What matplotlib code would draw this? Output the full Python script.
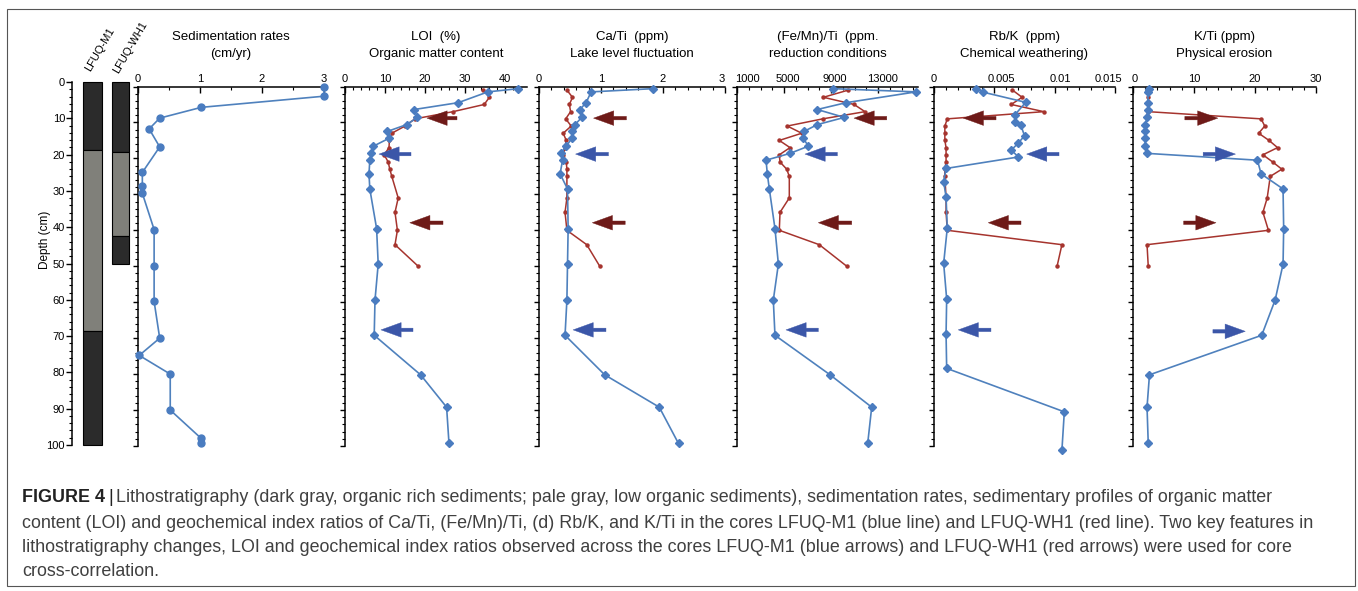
import matplotlib
matplotlib.use('Agg')
import matplotlib.pyplot as plt
from matplotlib.patches import Rectangle
from matplotlib.ticker import MultipleLocator, FixedLocator
import matplotlib.transforms as mtransforms
import numpy as np

plt.rcParams['font.family'] = ['Liberation Sans', 'DejaVu Sans']

W, H, DPI = 1358, 591, 100

# ---------------- data ----------------
depth_ticks = list(range(0, 101, 10))

m1_bounds = [0, 18.8, 68.6, 100]
m1_facies = ['dark', 'pale', 'dark']
wh1_bounds = [0, 19.3, 42.4, 50]
wh1_facies = ['dark', 'pale', 'dark']

sed_depth = [0, 2.7, 5.8, 8.8, 11.8, 16.8, 23.9, 27.8, 29.7, 39.8, 50.0, 59.8,
             70.0, 74.8, 80.0, 90.0, 97.9, 99.1]
sed_rate = [3.0, 3.0, 1.02, 0.35, 0.18, 0.35, 0.07, 0.07, 0.07, 0.26, 0.26, 0.26,
            0.35, 0.02, 0.52, 0.52, 1.02, 1.02]

m1_depth = [0.6, 1.5, 4.5, 6.4, 8.6, 10.6, 12.5, 14.4, 16.6, 18.6, 20.5, 24.3,
            28.5, 39.5, 49.4, 59.4, 69.2, 80.2, 89.2, 99.3]
m1_loi = [43.3, 35.7, 28.3, 17.3, 18.1, 15.4, 10.6, 11.0, 7.1, 6.6, 6.2, 6.0,
          6.2, 7.9, 8.3, 7.5, 7.3, 18.9, 25.4, 26.0]
m1_cati = [1.84, 0.84, 0.76, 0.66, 0.69, 0.58, 0.53, 0.53, 0.44, 0.35, 0.38, 0.34,
           0.46, 0.47, 0.46, 0.45, 0.42, 1.06, 1.94, 2.25]
m1_femn = [9200, 16230, 10280, 7830, 10130, 7830, 6700, 6640, 7070, 5510, 3470, 3580,
           3750, 4230, 4520, 4090, 4230, 8920, 12460, 12120]
m1_kti = [2.6, 2.4, 2.5, 2.5, 2.3, 2.0, 2.0, 2.0, 2.0, 2.3, 20.4, 21.0,
          24.6, 24.7, 24.6, 23.3, 21.1, 2.7, 2.3, 2.5]
m1_rbk_depth = [0.6, 1.6, 4.4, 7.9, 10.0, 10.8, 13.7, 15.7, 17.7, 19.6, 22.8, 26.5,
                30.7, 39.4, 49.2, 59.1, 68.9, 78.4, 90.5, 101.2]
m1_rbk = [0.0035, 0.0041, 0.0076, 0.0067, 0.0067, 0.0072, 0.0075, 0.0070, 0.0064, 0.0070,
          0.0010, 0.0008, 0.0010, 0.0011, 0.0008, 0.00105, 0.0010, 0.00105, 0.0108, 0.0106]

wh1_depth = [1, 3, 5, 7, 9, 11, 13, 15, 17, 19, 21, 23, 25, 31, 35, 40, 44, 50]
wh1_loi = [34.6, 36.1, 34.8, 27.0, 17.5, 15.0, 11.7, 11.1, 11.0, 9.8, 10.8, 11.2,
           11.7, 13.3, 12.5, 13.1, 12.5, 18.3]
wh1_cati = [0.45, 0.54, 0.49, 0.51, 0.43, 0.52, 0.39, 0.44, 0.42, 0.39, 0.44, 0.45,
            0.45, 0.45, 0.42, 0.45, 0.77, 0.98]
wh1_femn = [10470, 8350, 10960, 11890, 8290, 5280, 6510, 4600, 5510, 4600, 4660, 5230,
            5450, 5450, 4660, 4600, 8000, 10340]
wh1_rbk = [0.0065, 0.0073, 0.0064, 0.0091, 0.0011, 0.0009, 0.0009, 0.0009, 0.0010, 0.0010,
           0.0010, 0.0009, 0.0009, 0.0010, 0.0010, 0.0011, 0.0106, 0.0102]
wh1_kti = [2.5, 2.5, 2.5, 2.5, 21.0, 21.6, 20.6, 22.3, 23.7, 21.3, 22.9, 24.4,
           22.5, 22.0, 21.3, 22.2, 2.3, 2.5]

# arrows: (tail value, tip value, depth, core)
loi_arrows = [(28, 20.5, 8.8, 'wh1'), (16.5, 8.5, 18.8, 'm1'), (24.5, 16.2, 37.9, 'wh1'), (17, 9, 67.7, 'm1')]
cati_arrows = [(1.41, 0.88, 8.8, 'wh1'), (1.12, 0.59, 18.8, 'm1'), (1.39, 0.86, 37.9, 'wh1'), (1.08, 0.55, 67.7, 'm1')]
femn_arrows = [(13740, 10960, 8.8, 'wh1'), (9540, 6790, 18.8, 'm1'), (10760, 7920, 37.9, 'wh1'), (7920, 5170, 67.7, 'm1')]
rbk_arrows = [(0.00514, 0.00243, 8.8, 'wh1'), (0.01036, 0.00768, 18.8, 'm1'), (0.00721, 0.0045, 37.9, 'wh1'), (0.00472, 0.00201, 67.7, 'm1')]
kti_arrows = [(8.5, 13.9, 8.8, 'wh1'), (11.5, 16.8, 18.8, 'm1'), (8.3, 13.6, 37.9, 'wh1'), (13.1, 18.4, 68.1, 'm1')]

caption_lines = [
    "Lithostratigraphy (dark gray, organic rich sediments; pale gray, low organic sediments), sedimentation rates, sedimentary profiles of organic matter",
    "content (LOI) and geochemical index ratios of Ca/Ti, (Fe/Mn)/Ti, (d) Rb/K, and K/Ti in the cores LFUQ-M1 (blue line) and LFUQ-WH1 (red line). Two key features in",
    "lithostratigraphy changes, LOI and geochemical index ratios observed across the cores LFUQ-M1 (blue arrows) and LFUQ-WH1 (red arrows) were used for core",
    "cross-correlation.",
]

# ---------------- styles ----------------
BLUE = '#4F81BD'
BLUE_M = '#4A7CC0'
RED = '#A6342E'
ARROW_C = {'m1': '#3B56A8', 'wh1': '#6E1A18'}
FACIES_C = {'dark': '#2B2B2B', 'pale': '#80807A'}

fig = plt.figure(figsize=(W / DPI, H / DPI), dpi=DPI)


def fx(px):
    return px / W


def fy(py):
    return 1 - py / H


def axes_px(x0, x1, y0, y1):
    return fig.add_axes([fx(x0), fy(y1), fx(x1) - fx(x0), (y1 - y0) / H])


# border
fig.patches.append(Rectangle((fx(7), fy(586)), fx(1355) - fx(7), (586 - 9) / H,
                             transform=fig.transFigure, fill=False, ec='#555555', lw=0.8))

# ---------------- lithology ----------------
axl = axes_px(72, 132, 82, 445)
axl.set_ylim(100, 0)
axl.set_xlim(0, 60)
for side in ['top', 'right', 'bottom']:
    axl.spines[side].set_visible(False)
axl.spines['left'].set_linewidth(1.1)
axl.set_xticks([])
axl.yaxis.set_major_locator(FixedLocator(depth_ticks))
axl.yaxis.set_minor_locator(MultipleLocator(2))
axl.tick_params(axis='y', which='major', length=4, width=1, direction='out', pad=1, labelsize=8)
axl.tick_params(axis='y', which='minor', length=2, width=0.8, direction='out')
fig.text(fx(45), fy(240), 'Depth (cm)', rotation=90, ha='center', va='center', fontsize=8.5)

for bounds, facies, x0, w in [(m1_bounds, m1_facies, 11, 19), (wh1_bounds, wh1_facies, 40, 17)]:
    for top, bot, f in zip(bounds[:-1], bounds[1:], facies):
        axl.add_patch(Rectangle((x0, top), w, bot - top, fc=FACIES_C[f], ec='black', lw=0.8,
                                clip_on=False))

fig.text(fx(90), fy(72), 'LFUQ-M1', rotation=60, rotation_mode='anchor', ha='left', va='baseline',
         fontsize=8)
fig.text(fx(118), fy(74), 'LFUQ-WH1', rotation=60, rotation_mode='anchor', ha='left', va='baseline',
         fontsize=8)

# ---------------- panels ----------------
TOP, BOT = 86.5, 446


def setup_panel(x0, x1, xlim, ticks, ticklabels, minor, title1, title2, label_dx=None):
    ax = axes_px(x0, x1, TOP, BOT)
    ax.set_xlim(*xlim)
    ax.set_ylim(100, 0)
    ax.xaxis.tick_top()
    ax.spines['right'].set_visible(False)
    ax.spines['bottom'].set_visible(False)
    ax.spines['left'].set_linewidth(1.1)
    ax.spines['top'].set_linewidth(1.1)
    ax.set_xticks(ticks)
    ax.set_xticklabels(ticklabels)
    ax.xaxis.set_minor_locator(MultipleLocator(minor))
    ax.tick_params(axis='x', which='major', direction='in', length=4, width=1, pad=2, labelsize=8)
    ax.tick_params(axis='x', which='minor', direction='in', length=2.5, width=0.8)
    ax.yaxis.set_major_locator(FixedLocator(depth_ticks))
    ax.yaxis.set_minor_locator(MultipleLocator(2))
    ax.tick_params(axis='y', which='major', direction='out', length=3.5, width=1, labelleft=False)
    ax.tick_params(axis='y', which='minor', direction='out', length=2, width=0.8)
    if label_dx is not None:
        for lab, dx in zip(ax.get_xticklabels(), label_dx):
            lab.set_transform(lab.get_transform() +
                              mtransforms.ScaledTranslation(dx / DPI, 0, fig.dpi_scale_trans))
    cx = (x0 + x1) / 2
    fig.text(fx(cx), fy(37), title1, ha='center', va='center', fontsize=9.5)
    fig.text(fx(cx), fy(54), title2, ha='center', va='center', fontsize=9.5)
    return ax


def plot_m1(ax, vals, depth):
    ax.plot(vals, depth, color=BLUE, lw=1.2, marker='D', ms=4, mfc=BLUE_M, mec=BLUE_M,
            clip_on=False, zorder=3)


def plot_wh1(ax, vals, depth):
    ax.plot(vals, depth, color=RED, lw=1.1, marker='o', ms=2.2, mfc=RED, mec=RED,
            clip_on=False, zorder=3)


def draw_arrows(ax, arrows):
    for tail, tip, d, core in arrows:
        c = ARROW_C[core]
        ax.annotate('', xy=(tip, d), xytext=(tail, d), annotation_clip=False,
                    arrowprops=dict(arrowstyle='simple,head_length=1.45,head_width=1.05,tail_width=0.25',
                                    mutation_scale=10, fc=c, ec=c, lw=0.3, shrinkA=0, shrinkB=0),
                    zorder=4)


ax_sed = setup_panel(138, 324, (0, 3), [0, 1, 2, 3], ['0', '1', '2', '3'], 0.5,
                     'Sedimentation rates', '(cm/yr)')
ax_sed.plot(sed_rate, sed_depth, color=BLUE, lw=1.2, marker='o', ms=5, mfc=BLUE_M, mec=BLUE_M,
            clip_on=False, zorder=3)

ax_loi = setup_panel(345, 527, (0, 45.5), [0, 10, 20, 30, 40], ['0', '10', '20', '30', '40'], 2,
                     'LOI  (%)', 'Organic matter content')
plot_wh1(ax_loi, wh1_loi, wh1_depth)
plot_m1(ax_loi, m1_loi, m1_depth)
draw_arrows(ax_loi, loi_arrows)

ax_ca = setup_panel(539, 725, (0, 3), [0, 1, 2, 3], ['0', '1', '2', '3'], 0.2,
                    'Ca/Ti  (ppm)', 'Lake level fluctuation', label_dx=[0, 0, 0, -3])
plot_wh1(ax_ca, wh1_cati, wh1_depth)
plot_m1(ax_ca, m1_cati, m1_depth)
draw_arrows(ax_ca, cati_arrows)

ax_fe = setup_panel(737, 918, (1000, 16400), [1000, 5000, 9000, 13000],
                    ['1000', '5000', '9000', '13000'], 1000,
                    '(Fe/Mn)/Ti  (ppm.', 'reduction conditions', label_dx=[10, 4, 4, 4])
plot_wh1(ax_fe, wh1_femn, wh1_depth)
plot_m1(ax_fe, m1_femn, m1_depth)
draw_arrows(ax_fe, femn_arrows)

ax_rb = setup_panel(934, 1115, (0, 0.015), [0, 0.005, 0.01, 0.015],
                    ['0', '0.005', '0.01', '0.015'], 0.001,
                    'Rb/K  (ppm)', 'Chemical weathering)', label_dx=[0, 7, 6, -7])
plot_wh1(ax_rb, wh1_rbk, wh1_depth)
plot_m1(ax_rb, m1_rbk, m1_rbk_depth)
draw_arrows(ax_rb, rbk_arrows)

ax_k = setup_panel(1133, 1316, (0, 30), [0, 10, 20, 30], ['0', '10', '20', '30'], 2,
                   'K/Ti (ppm)', 'Physical erosion', label_dx=[2, 0, 0, 0])
plot_wh1(ax_k, wh1_kti, wh1_depth)
plot_m1(ax_k, m1_kti, m1_depth)
draw_arrows(ax_k, kti_arrows)

# ---------------- caption ----------------
renderer = fig.canvas.get_renderer()
probe = fig.text(0, 0, caption_lines[2], fontsize=10)
pw = probe.get_window_extent(renderer).width
probe.remove()
cap_fs = 10 * (1300 - 22) / pw

CAP_C = '#404040'
line_y = [498, 523, 547, 571]
tb = fig.text(fx(22), fy(line_y[0]), 'FIGURE 4', fontsize=cap_fs, weight='bold', color='#222222',
              va='center', ha='left')
bx = tb.get_window_extent(renderer).x1
tbar = fig.text(fx(bx + 3), fy(line_y[0]), '|', fontsize=cap_fs, color='#222222', va='center', ha='left')
bx2 = tbar.get_window_extent(renderer).x1
fig.text(fx(bx2 + 3), fy(line_y[0]), caption_lines[0], fontsize=cap_fs, color=CAP_C, va='center', ha='left')
for txt, yy in zip(caption_lines[1:], line_y[1:]):
    fig.text(fx(22), fy(yy), txt, fontsize=cap_fs, color=CAP_C, va='center', ha='left')

fig.savefig('out.png', dpi=DPI)
